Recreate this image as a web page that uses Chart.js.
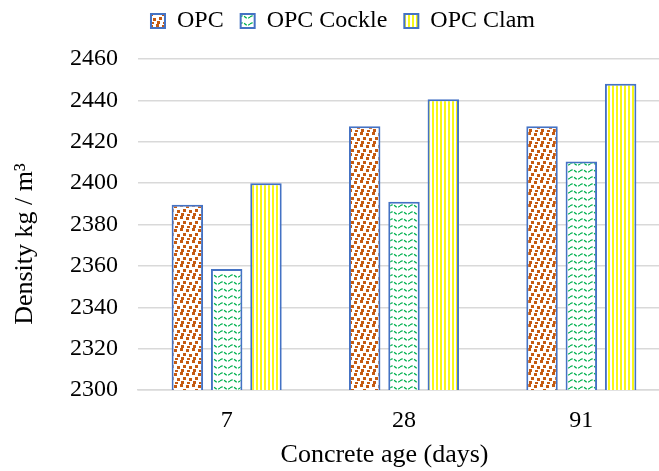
<!DOCTYPE html>
<html>
<head>
<meta charset="utf-8">
<script src="https://cdn.jsdelivr.net/npm/chart.js@4.4.1/dist/chart.umd.min.js"></script>
<style>
  html, body { margin: 0; padding: 0; background: #fff; overflow: hidden; }
  #wrap { width: 670px; height: 471px; position: relative; }
</style>
</head>
<body>
<div id="wrap"><canvas id="chart"></canvas></div>
<script>
const AGES = ['7', '28', '91'];
const OPC = [2389.5, 2427.5, 2427.5];
const OPC_COCKLE = [2358.5, 2391, 2410.5];
const OPC_CLAM = [2400, 2440.5, 2448];
const Y_MIN = 2300, Y_MAX = 2460, Y_STEP = 20;

const FONT = 'Liberation Serif, Times New Roman, serif';
const BORDER = '#4472C4';
const NBSP6 = '\u00A0'.repeat(6);

function tile(w, h, draw) {
    const c = document.createElement('canvas');
    c.width = w; c.height = h;
    const g = c.getContext('2d');
    g.fillStyle = '#ffffff';
    g.fillRect(0, 0, w, h);
    draw(g);
    return document.createElement('canvas').getContext('2d').createPattern(c, 'repeat');
}

// small brown squares, scattered
const dotsPat = tile(12, 12, g => {
    g.fillStyle = '#C55A11';
    [[0, 0], [6, 1], [3, 5], [9, 6], [1, 9], [7, 10]].forEach(([x, y]) => g.fillRect(x, y, 3, 3));
});

// green wavy dashes
const wavePat = tile(10, 7, g => {
    g.strokeStyle = '#00B050';
    g.lineWidth = 1.3;
    g.setLineDash([3, 1.5]);
    g.beginPath();
    g.moveTo(0, 3);
    g.quadraticCurveTo(2.5, 0.6, 5, 3);
    g.quadraticCurveTo(7.5, 5.4, 10, 3);
    g.stroke();
});

// yellow vertical stripes
const stripePat = tile(4, 4, g => {
    g.fillStyle = '#F7F718';
    g.fillRect(0, 0, 2, 4);
});

const ds = (label, data, bg) => ({
    label, data,
    backgroundColor: bg,
    borderColor: BORDER,
    borderWidth: 2,
    barPercentage: 0.8,
    categoryPercentage: 0.665,
});

// fixed legend height so the plot starts where the reference does
const legendBox = {
    id: 'legendBox',
    beforeInit(chart) {
        const lg = chart.legend;
        const fit = lg.fit;
        lg.fit = function () { fit.call(this); this.height = 59; };
    },
    afterLayout(chart) {
        const lg = chart.legend;
        lg.top -= 8;
        lg.left += 8;
        lg.right += 8;
    },
};

new Chart(document.getElementById('chart'), {
    type: 'bar',
    data: {
        labels: AGES,
        datasets: [
            ds('OPC', OPC, dotsPat),
            ds('OPC Cockle', OPC_COCKLE, wavePat),
            ds('OPC Clam', OPC_CLAM, stripePat),
        ],
    },
    plugins: [legendBox],
    options: {
        responsive: true,
        maintainAspectRatio: false,
        animation: false,
        layout: { padding: 0 },
        plugins: {
            legend: {
                display: true,
                position: 'top',
                labels: {
                    color: '#000',
                    font: { family: FONT, size: 24 },
                    boxWidth: 14,
                    boxHeight: 14,
                    padding: 17,
                },
            },
            tooltip: { enabled: false },
        },
        scales: {
            x: {
                afterFit: (s) => { s.height = 81; },
                grid: { display: false, drawTicks: false },
                border: { color: '#D9D9D9', width: 1.5 },
                ticks: { color: '#000', font: { family: FONT, size: 24 }, padding: 16 },
                title: {
                    display: true,
                    text: 'Concrete age (days)' + NBSP6,
                    color: '#000',
                    font: { family: FONT, size: 26 },
                    padding: 0,
                },
            },
            y: {
                min: Y_MIN,
                max: Y_MAX,
                afterFit: (s) => { s.width = 138; },
                grid: { color: '#D9D9D9', lineWidth: 1.5, drawTicks: false },
                border: { display: false },
                ticks: {
                    stepSize: Y_STEP,
                    color: '#000',
                    font: { family: FONT, size: 24 },
                    padding: 20,
                    callback: (v) => String(v),
                },
                title: {
                    display: true,
                    text: 'Density kg / m³' + NBSP6,
                    color: '#000',
                    font: { family: FONT, size: 26 },
                    padding: { top: 10, bottom: 0 },
                },
            },
        },
    },
});
</script>
</body>
</html>
